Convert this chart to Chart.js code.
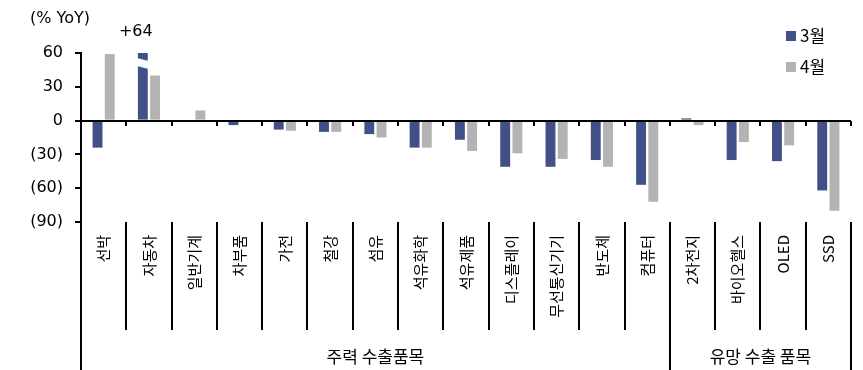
<!DOCTYPE html>
<html lang="ko">
<head>
<meta charset="utf-8">
<title>주력·유망 수출품목 증감률</title>
<script src="https://cdn.jsdelivr.net/npm/chart.js@4/dist/chart.umd.min.js"></script>
<style>
  html, body { margin: 0; padding: 0; background: #fff; }
  #wrap { width: 863px; height: 370px; }
</style>
</head>
<body>
<div id="wrap"><canvas id="c" width="863" height="370"></canvas></div>
<script>
// Export items (x axis)
const categories = ['선박', '자동차', '일반기계', '차부품', '가전', '철강', '섬유', '석유화학', '석유제품',
  '디스플레이', '무선통신기기', '반도체', '컴퓨터', '2차전지', '바이오헬스', 'OLED', 'SSD'];
// Year-on-year change, %
const march = [-24, 64, -0.5, -4, -8, -10, -12, -24, -17, -41, -41, -35, -57, 2, -35, -36, -62];
const april = [59, 40, 9, 0, -9, -10, -15, -24, -27, -29, -34, -41, -72, -4, -19, -22, -80];
const seriesNames = ['3월', '4월'];
// Item groups along the bottom
const groupNames = ['주력 수출품목', '유망 수출 품목'];
const groupSizes = [13, 4];
// Value axis
const yTicks = [-90, -60, -30, 0, 30, 60];
const yUnit = '(% YoY)';

const BLUE = '#42508a';
const GREY = '#b3b3b3';
const NUM_FONT = '16px "DejaVu Sans", Verdana, sans-serif';
const KO = '"Noto Sans CJK KR", "Noto Sans", sans-serif';

function fmt(v) { return v < 0 ? '(' + Math.abs(v) + ')' : String(v); }

// Extra drawing: zero line, separators, group titles, legend, clipped-bar breaks
const decorations = {
  id: 'decorations',
  afterDatasetsDraw(chart) {
    const { ctx, chartArea: a, scales: { x, y } } = chart;
    const H = chart.height;
    const n = categories.length;
    const step = (x.getPixelForValue(n - 1) - x.getPixelForValue(0)) / (n - 1);
    const edge = i => x.getPixelForValue(0) - step / 2 + i * step;
    const yMax = y.max;

    ctx.save();
    // bars running past the top: break mark and stated value
    chart.data.datasets.forEach((ds, di) => {
      const meta = chart.getDatasetMeta(di);
      ds.data.forEach((v, i) => {
        if (v <= yMax) return;
        const bar = meta.data[i];
        const l = bar.x - bar.width / 2 - 1, r = bar.x + bar.width / 2 + 1;
        const t = a.top + 5;
        ctx.fillStyle = '#fff';
        ctx.beginPath();
        ctx.moveTo(l, t); ctx.lineTo(r, t + 3);
        ctx.lineTo(r, t + 11); ctx.lineTo(l, t + 8);
        ctx.closePath(); ctx.fill();
        ctx.fillStyle = '#000';
        ctx.font = NUM_FONT;
        ctx.textAlign = 'center';
        ctx.textBaseline = 'middle';
        ctx.fillText('+' + v, bar.x - 7, a.top - 21);
      });
    });

    ctx.strokeStyle = '#000';
    ctx.lineWidth = 2;
    // zero line with short ticks
    const y0 = Math.round(y.getPixelForValue(0));
    ctx.beginPath();
    ctx.moveTo(a.left, y0); ctx.lineTo(a.right, y0);
    for (let i = 1; i <= n; i++) {
      const ex = Math.round(edge(i));
      ctx.moveTo(ex, y0); ctx.lineTo(ex, y0 + 5);
    }
    ctx.stroke();

    // separators under the plot
    const sepBottom = a.bottom + 108;
    ctx.beginPath();
    ctx.moveTo(a.left, a.bottom); ctx.lineTo(a.left, H);
    let acc = 0;
    const bounds = [0];
    groupSizes.forEach(s => { acc += s; bounds.push(acc); });
    for (let i = 1; i <= n; i++) {
      const ex = Math.round(edge(i));
      ctx.moveTo(ex, a.bottom);
      ctx.lineTo(ex, bounds.includes(i) ? H : sepBottom);
    }
    ctx.stroke();

    // group titles
    ctx.fillStyle = '#000';
    ctx.font = '17px ' + KO;
    ctx.textAlign = 'center';
    ctx.textBaseline = 'middle';
    groupNames.forEach((g, gi) => {
      const cx = (edge(bounds[gi]) + edge(bounds[gi + 1])) / 2;
      ctx.fillText(g, cx, H - 13);
    });

    // unit
    ctx.font = NUM_FONT;
    ctx.textAlign = 'left';
    ctx.fillText(yUnit, 30, 19);

    // legend
    ctx.font = '17px ' + KO;
    chart.data.datasets.forEach((ds, di) => {
      const ly = 36 + di * 31;
      ctx.fillStyle = ds.backgroundColor;
      ctx.fillRect(786, ly - 5, 10, 10);
      ctx.fillStyle = '#000';
      ctx.fillText(ds.label, 800, ly);
    });
    ctx.restore();
  }
};

new Chart(document.getElementById('c'), {
  type: 'bar',
  data: {
    labels: categories,
    datasets: [
      { label: seriesNames[0], data: march, backgroundColor: BLUE },
      { label: seriesNames[1], data: april, backgroundColor: GREY }
    ]
  },
  options: {
    responsive: false,
    animation: false,
    devicePixelRatio: 1,
    categoryPercentage: 0.54,
    barPercentage: 0.81,
    layout: { padding: { top: 53, right: 12, left: 0, bottom: 0 } },
    plugins: { legend: { display: false }, tooltip: { enabled: false } },
    scales: {
      x: {
        grid: { display: false, drawTicks: false },
        border: { display: false },
        ticks: {
          autoSkip: false, minRotation: 90, maxRotation: 90, padding: 13,
          color: '#000', font: { family: KO, size: 15 }
        },
        afterFit(s) { s.height = 148; }
      },
      y: {
        min: yTicks[0], max: yTicks[yTicks.length - 1],
        afterBuildTicks(s) { s.ticks = yTicks.map(v => ({ value: v })); },
        grid: { drawOnChartArea: false, drawTicks: true, tickLength: 6, color: '#000', lineWidth: 2 },
        border: { display: true, color: '#000', width: 2 },
        ticks: {
          padding: 12, color: '#000',
          font: { family: '"DejaVu Sans", Verdana, sans-serif', size: 16 },
          callback: v => fmt(v)
        },
        afterFit(s) { s.width = 81; }
      }
    }
  },
  plugins: [decorations]
});
</script>
</body>
</html>
